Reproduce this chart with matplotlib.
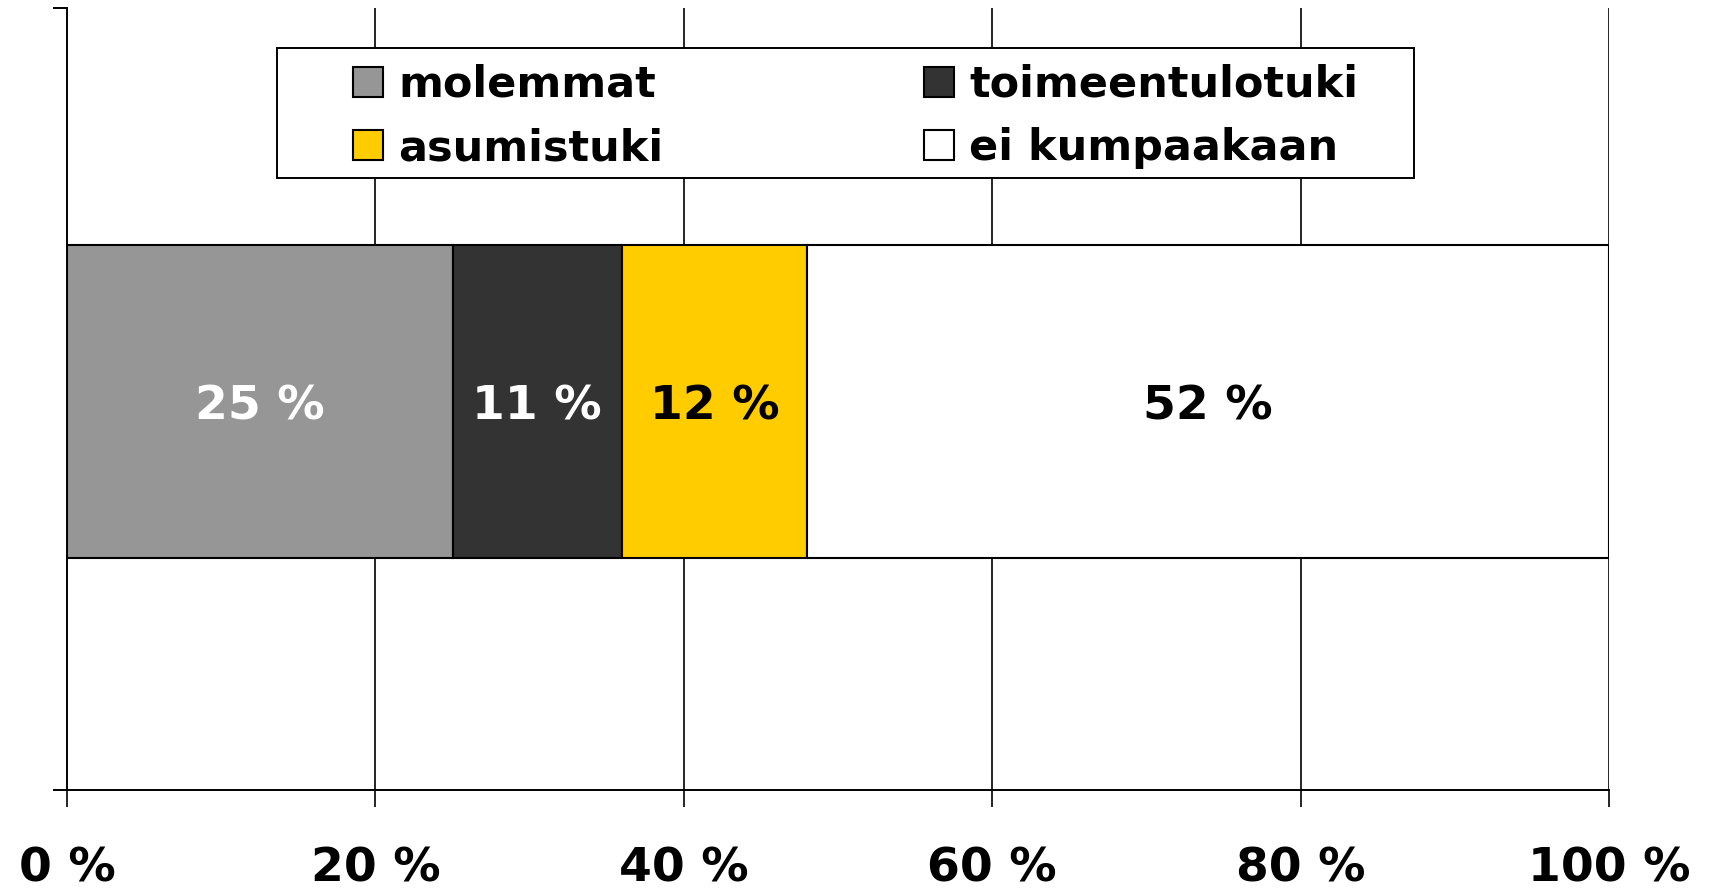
import matplotlib.pyplot as plt
from matplotlib.patches import Rectangle

# Shares of households (%)
categories = ["molemmat", "toimeentulotuki", "asumistuki", "ei kumpaakaan"]
values = [25, 11, 12, 52]
colors = ["#969696", "#333333", "#FFCC00", "#FFFFFF"]
label_colors = ["white", "white", "black", "black"]
xticks = [0, 20, 40, 60, 80, 100]
xtick_labels = ["0 %", "20 %", "40 %", "60 %", "80 %", "100 %"]

plt.rcParams.update({
    "font.family": ["DejaVu Sans"],
    "axes.linewidth": 1.4,
})

fig = plt.figure(figsize=(17.09, 8.89), dpi=100)
ax = fig.add_axes([0.0392, 0.1114, 0.9023, 0.8796])

# vertical gridlines behind the bar
for t in xticks[1:]:
    ax.axvline(t, color="black", linewidth=1.2, zorder=0)

bars = {}
left = 0
for cat, val, col, lc in zip(categories, values, colors, label_colors):
    bars[cat] = ax.barh(0.497, val, left=left, height=0.4, color=col,
                        edgecolor="black", linewidth=1.5, label=cat, zorder=2)
    ax.text(left + val / 2, 0.49, f"{val} %", ha="center", va="center",
            color=lc, fontsize=34, fontweight="bold", zorder=3)
    left += val

ax.set_xlim(0, 100)
ax.set_ylim(0, 1)
ax.set_xticks(xticks)
ax.set_xticklabels(xtick_labels, fontsize=34, fontweight="bold")
ax.set_yticks([0, 1])
ax.set_yticklabels([])
ax.tick_params(axis="x", direction="out", length=12, width=1.2, pad=29)
ax.tick_params(axis="y", direction="out", length=10, width=1.4)
ax.spines["top"].set_visible(False)
ax.spines["right"].set_visible(False)

# legend frame
ax.add_patch(Rectangle((0.136, 0.783), 0.7375, 0.166, transform=ax.transAxes,
                       facecolor="white", edgecolor="black", linewidth=1.4,
                       zorder=4))
order = ["molemmat", "asumistuki", "toimeentulotuki", "ei kumpaakaan"]
leg = ax.legend([bars[c] for c in order], order, ncol=2, loc="center left",
                bbox_to_anchor=(0.1715, 0.861), frameon=False,
                prop={"weight": "bold", "size": 31},
                handlelength=0.7, handleheight=0.7, handletextpad=0.35,
                columnspacing=6.05, labelspacing=0.5, borderpad=0)
leg.set_zorder(5)

fig.savefig("out.png", dpi=100)
